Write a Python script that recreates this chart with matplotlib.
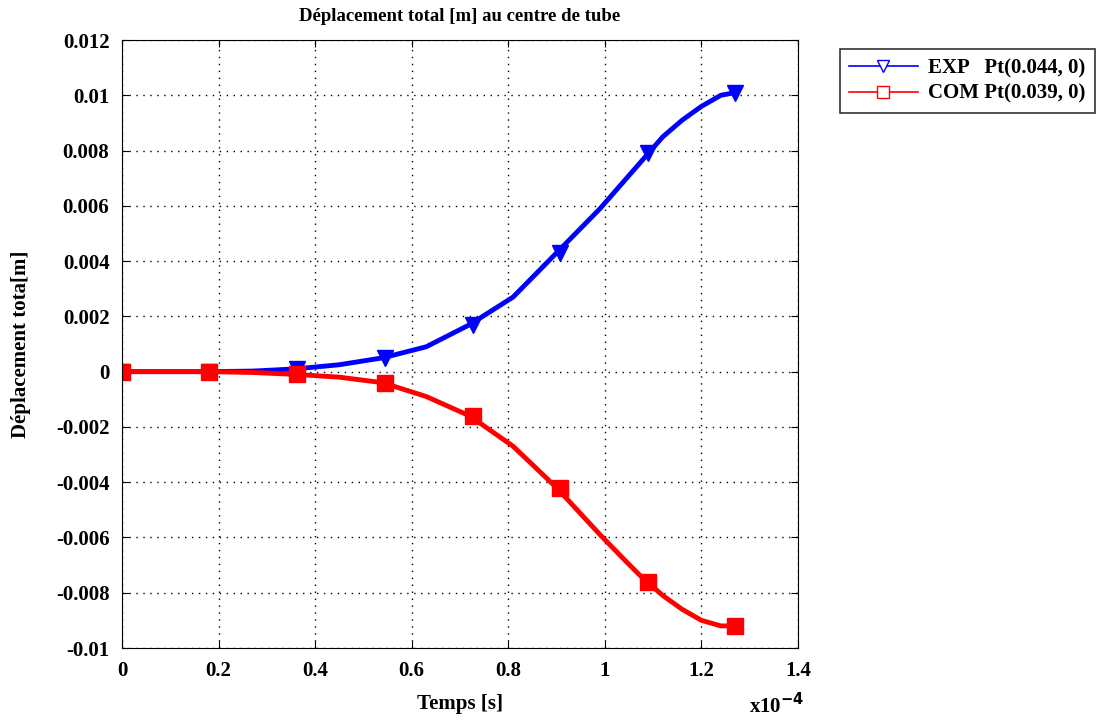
import numpy as np
import matplotlib
matplotlib.use("Agg")
import matplotlib.pyplot as plt
from matplotlib.lines import Line2D

# time in units of 1e-4 s
t_curve = [0, 0.09, 0.18, 0.27, 0.36, 0.45, 0.54, 0.63, 0.72, 0.81, 0.90,
           0.99, 1.04, 1.08, 1.12, 1.16, 1.20, 1.24, 1.27]
exp_curve = [0, 0, 0, 0.00002, 0.0001, 0.00025, 0.0005, 0.0009, 0.0017, 0.0027, 0.0043,
             0.0059, 0.0069, 0.0077, 0.0085, 0.0091, 0.0096, 0.0100, 0.0101]
com_curve = [0, 0, 0, -0.00003, -0.0001, -0.0002, -0.0004, -0.0009, -0.0016, -0.0027, -0.0042,
             -0.0059, -0.0068, -0.0075, -0.0081, -0.0086, -0.0090, -0.0092, -0.0092]

t_marks = [0, 0.181, 0.363, 0.544, 0.726, 0.907, 1.089, 1.27]
exp_marks = [0, 0, 0.0001, 0.0005, 0.0017, 0.0043, 0.0079, 0.0101]
com_marks = [0, 0, -0.0001, -0.0004, -0.0016, -0.0042, -0.0076, -0.0092]

x_ticks = [0, 0.2, 0.4, 0.6, 0.8, 1.0, 1.2, 1.4]
x_labels = ["0", "0.2", "0.4", "0.6", "0.8", "1", "1.2", "1.4"]
y_ticks = [0.012, 0.01, 0.008, 0.006, 0.004, 0.002, 0, -0.002, -0.004, -0.006, -0.008, -0.01]
y_labels = ["0.012", "0.01", "0.008", "0.006", "0.004", "0.002", "0",
            "-0.002", "-0.004", "-0.006", "-0.008", "-0.01"]

plt.rcParams['font.family'] = ['Liberation Serif', 'DejaVu Serif']
plt.rcParams['font.weight'] = 'bold'
plt.rcParams['mathtext.default'] = 'bf'

fig = plt.figure(figsize=(11.07, 7.2), dpi=100)
ax = fig.add_axes([0.1102, 0.1, 0.6107, 0.8444])

ax.plot(t_curve, exp_curve, color='blue', lw=3.5, solid_joinstyle='round')
ax.plot(t_marks, exp_marks, linestyle='none', marker='v', color='blue', markersize=11)
ax.plot(t_curve, com_curve, color='red', lw=3.5, solid_joinstyle='round')
ax.plot(t_marks, com_marks, linestyle='none', marker='s', color='red', markersize=12)

ax.set_xlim(0, 1.4)
ax.set_ylim(-0.01, 0.012)
ax.set_xticks(x_ticks)
ax.set_xticklabels(x_labels, fontsize=15, fontweight='bold')
ax.set_yticks(y_ticks)
ax.set_yticklabels(y_labels, fontsize=15, fontweight='bold')
ax.tick_params(direction='in', top=True, right=True, length=5, pad=9)
ax.grid(True, color='black', linestyle=(0, (1, 4)), linewidth=1)

ax.set_title("Déplacement total [m] au centre de tube", fontsize=13.5, fontweight='bold', pad=14)
ax.set_xlabel("Temps [s]", fontsize=15, fontweight='bold', labelpad=10)
ax.set_ylabel("Déplacement tota[m]", fontsize=15, fontweight='bold', labelpad=18)
fig.text(0.677, 0.01, r"x10$^{-4}$", fontsize=15, fontweight='bold')

handles = [
    Line2D([], [], color='blue', lw=1.2, marker='v', markerfacecolor='white', markersize=8),
    Line2D([], [], color='red', lw=1.2, marker='s', markerfacecolor='white', markersize=8),
]
leg = fig.legend(handles, ["EXP   Pt(0.044, 0)", "COM Pt(0.039, 0)"],
                 loc='upper left', bbox_to_anchor=(0.749, 0.946), fontsize=15,
                 frameon=True, fancybox=False, edgecolor='black', handlelength=3.3,
                 borderpad=0.45, labelspacing=0.25, handletextpad=0.5)
leg.get_frame().set_linewidth(1.2)

fig.savefig("out.png", dpi=100)
